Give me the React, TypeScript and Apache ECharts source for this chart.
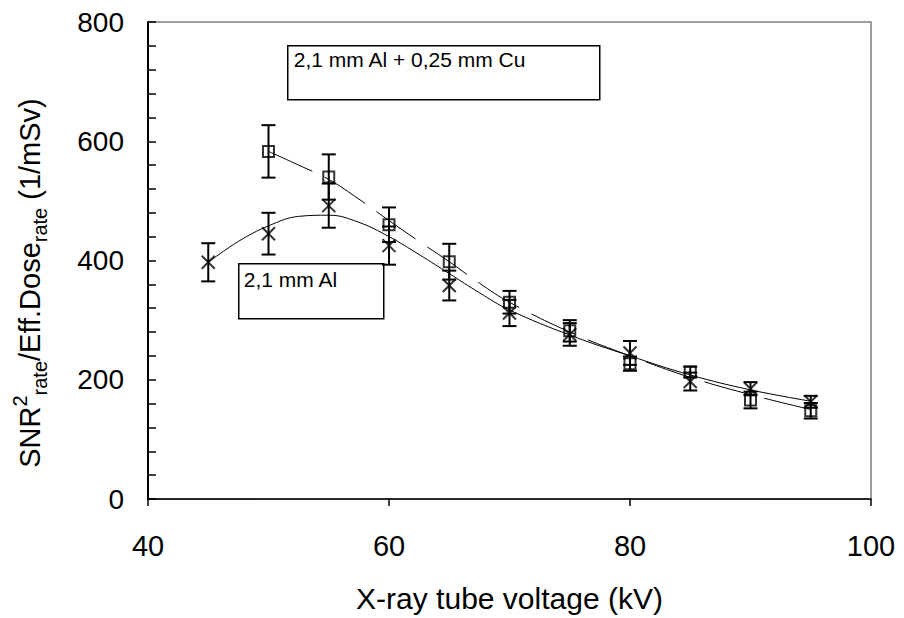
import React, { useEffect, useRef } from "react";
import * as echarts from "echarts";

// Measured points: 2,1 mm Al (crosses)
const kvAl = [45, 50, 55, 60, 65, 70, 75, 80, 85, 90, 95];
const snrAl = [397, 445, 492, 425, 358, 312, 276, 245, 197, 185, 163];
const errAl = [32, 35, 37, 32, 25, 22, 19, 20, 15, 11, 10];

// Measured points: 2,1 mm Al + 0,25 mm Cu (squares)
const kvCu = [50, 55, 60, 65, 70, 75, 80, 85, 90, 95];
const snrCu = [583, 540, 460, 398, 330, 282, 227, 213, 166, 148];
const errCu = [44, 38, 29, 30, 19, 18, 12, 9, 14, 13];

// Trend lines
const fitKvAl = [45, 47.5, 50, 52.5, 55, 57.5, 60, 62.5, 65, 67.5, 70, 75, 80, 85, 90, 95];
const fitAl = [397, 432, 458, 474, 476, 464, 440, 410, 378, 346, 317, 275, 240, 208, 183, 164];
const fitKvCu = [50, 52.5, 55, 57.5, 60, 62.5, 65, 67.5, 70, 75, 80, 85, 90, 95];
const fitCu = [583, 560, 536, 503, 467, 432, 398, 362, 330, 280, 240, 204, 175, 150];

const xTicks = [40, 60, 80, 100];
const yTicks = [0, 200, 400, 600, 800];

const labelAl = "2,1 mm Al";
const labelCu = "2,1 mm Al + 0,25 mm Cu";
const xTitle = "X-ray tube voltage (kV)";
const yTitleRich = "{m|SNR}{sup|2}{sub|rate}{m|/Eff.Dose}{sub|rate}{m| (1/mSv)}";

const FONT = "'Liberation Sans', Arial, sans-serif";

export default function App() {
  const ref = useRef<HTMLDivElement>(null);
  useEffect(() => {
    if (!ref.current) return;
    const chart = echarts.init(ref.current, null, { renderer: "svg" });

    const errRender = (params: any, api: any) => {
      const x = api.value(0);
      const lo = api.value(1);
      const hi = api.value(2);
      const pHi = api.coord([x, hi]);
      const pLo = api.coord([x, lo]);
      const w = 7;
      const st = { stroke: "#000", lineWidth: 2 };
      return {
        type: "group",
        children: [
          { type: "line", shape: { x1: pHi[0], y1: pHi[1], x2: pLo[0], y2: pLo[1] }, style: st },
          { type: "line", shape: { x1: pHi[0] - w, y1: pHi[1], x2: pHi[0] + w, y2: pHi[1] }, style: st },
          { type: "line", shape: { x1: pLo[0] - w, y1: pLo[1], x2: pLo[0] + w, y2: pLo[1] }, style: st },
        ],
      };
    };

    const option: any = {
      animation: false,
      backgroundColor: "#fff",
      textStyle: { fontFamily: FONT },
      grid: {
        left: 148,
        right: 33,
        top: 22,
        bottom: 117,
        show: true,
        borderColor: "#808080",
        borderWidth: 1.5,
      },
      xAxis: {
        type: "value",
        min: xTicks[0],
        max: xTicks[xTicks.length - 1],
        interval: 20,
        name: xTitle,
        nameLocation: "middle",
        nameGap: 84,
        nameTextStyle: { fontSize: 30, color: "#000", fontFamily: FONT },
        axisLine: { show: true, lineStyle: { color: "#000", width: 1.5 } },
        axisTick: { show: true, inside: false, length: 7, lineStyle: { color: "#000", width: 1.5 } },
        axisLabel: { fontSize: 29, color: "#000", margin: 32, fontFamily: FONT },
        splitLine: { show: false },
      },
      yAxis: {
        type: "value",
        min: yTicks[0],
        max: yTicks[yTicks.length - 1],
        interval: 200,
        axisLine: { show: true, lineStyle: { color: "#000", width: 2 } },
        axisTick: { show: true, inside: true, length: 8, lineStyle: { color: "#000", width: 1.5 } },
        minorTick: { show: true, splitNumber: 5, length: 8, lineStyle: { color: "#000", width: 1.5 } },
        axisLabel: { fontSize: 28, color: "#000", margin: 24, fontFamily: FONT },
        splitLine: { show: false },
      },
      series: [
        {
          type: "line",
          data: fitKvAl.map((k, i) => [k, fitAl[i]]),
          smooth: 0.4,
          showSymbol: false,
          symbol: "none",
          lineStyle: { color: "#000", width: 1 },
          z: 2,
          silent: true,
        },
        {
          type: "line",
          data: fitKvCu.map((k, i) => [k, fitCu[i]]),
          smooth: 0.4,
          showSymbol: false,
          symbol: "none",
          lineStyle: { color: "#000", width: 1, type: [48, 14] },
          z: 2,
          silent: true,
        },
        {
          type: "custom",
          renderItem: errRender,
          data: kvAl.map((k, i) => [k, snrAl[i] - errAl[i], snrAl[i] + errAl[i]]),
          z: 3,
          silent: true,
        },
        {
          type: "custom",
          renderItem: errRender,
          data: kvCu.map((k, i) => [k, snrCu[i] - errCu[i], snrCu[i] + errCu[i]]),
          z: 3,
          silent: true,
        },
        {
          type: "scatter",
          name: labelAl,
          data: kvAl.map((k, i) => [k, snrAl[i]]),
          symbol: "path://M0 0L10 10M10 0L0 10",
          symbolSize: 13,
          itemStyle: { color: "none", borderColor: "#000", borderWidth: 2 },
          z: 4,
        },
        {
          type: "scatter",
          name: labelCu,
          data: kvCu.map((k, i) => [k, snrCu[i]]),
          symbol: "rect",
          symbolSize: 11,
          itemStyle: { color: "rgba(0,0,0,0)", borderColor: "#000", borderWidth: 2 },
          z: 4,
        },
      ],
      graphic: [
        {
          type: "text",
          x: 30,
          y: 283,
          rotation: Math.PI / 2,
          style: {
            text: yTitleRich,
            align: "center",
            verticalAlign: "middle",
            fill: "#000",
            fontFamily: FONT,
            rich: {
              m: { fontSize: 29, fill: "#000", fontFamily: FONT, lineHeight: 40, verticalAlign: "middle" },
              sup: { fontSize: 20, fill: "#000", fontFamily: FONT, verticalAlign: "top", lineHeight: 22 },
              sub: { fontSize: 20, fill: "#000", fontFamily: FONT, verticalAlign: "bottom", lineHeight: 22 },
            },
          },
          z: 10,
        },
        {
          type: "group",
          left: 287,
          top: 45,
          children: [
            { type: "rect", shape: { x: 0, y: 0, width: 312, height: 54 }, style: { fill: "#fff", stroke: "#000", lineWidth: 1.5 } },
            { type: "text", x: 6, y: 3, style: { text: labelCu, fontSize: 21, fontFamily: FONT, fill: "#000" } },
          ],
          z: 10,
        },
        {
          type: "group",
          left: 238,
          top: 263,
          children: [
            { type: "rect", shape: { x: 0, y: 0, width: 145, height: 55 }, style: { fill: "#fff", stroke: "#000", lineWidth: 1.5 } },
            { type: "text", x: 5, y: 5, style: { text: labelAl, fontSize: 21, fontFamily: FONT, fill: "#000" } },
          ],
          z: 10,
        },
      ],
    };
    chart.setOption(option);
    return () => chart.dispose();
  }, []);
  return (
    <div
      ref={ref}
      style={{ position: "fixed", left: 0, top: 0, width: 904, height: 618, background: "#fff" }}
    />
  );
}
